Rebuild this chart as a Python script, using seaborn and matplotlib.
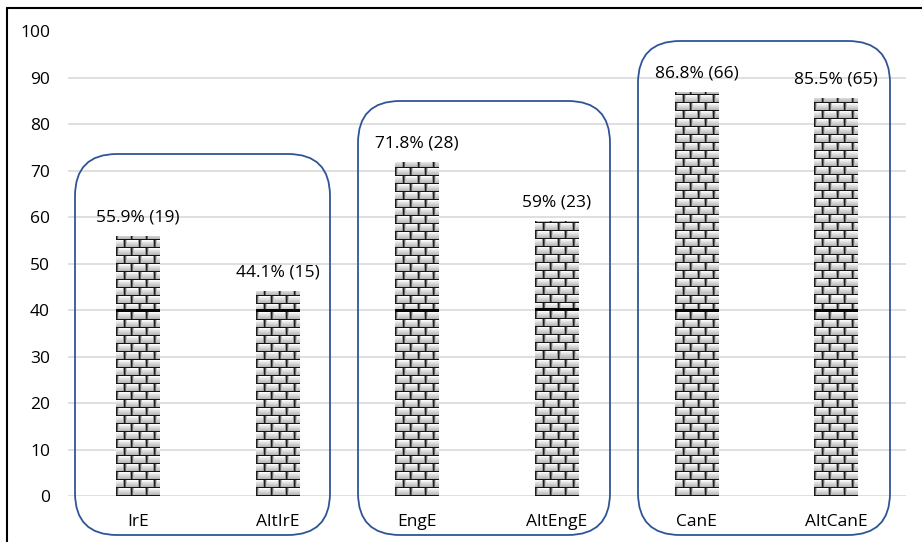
import numpy as np
import pandas as pd
import matplotlib
matplotlib.use("Agg")
import matplotlib.pyplot as plt
import seaborn as sns
from matplotlib.patches import FancyBboxPatch
from matplotlib.lines import Line2D

categories = ["IrE", "AltIrE", "EngE", "AltEngE", "CanE", "AltCanE"]
values = [55.9, 44.1, 71.8, 59.0, 86.8, 85.5]
counts = [19, 15, 28, 23, 66, 65]
bar_labels = ["55.9% (19)", "44.1% (15)", "71.8% (28)", "59% (23)", "86.8% (66)", "85.5% (65)"]
yticks = [0, 10, 20, 30, 40, 50, 60, 70, 80, 90, 100]

sns.set_theme(style="white")
plt.rcParams['font.family'] = ['Open Sans', 'DejaVu Sans']

W, H = 922, 542
fig = plt.figure(figsize=(W / 100, H / 100), dpi=100)
ax = fig.add_axes([68 / W, (H - 496) / H, (906 - 68) / W, (496 - 31.5) / H])

df = pd.DataFrame({"cat": categories, "val": values})
sns.barplot(data=df, x="cat", y="val", color="white", width=0.314, ax=ax,
            edgecolor="none", zorder=2)

ax.set_ylim(0, 100)
ax.set_xlim(-0.5, len(categories) - 0.5)
ax.set_yticks(yticks)
ax.set_yticklabels([str(t) for t in yticks])
ax.yaxis.grid(True, color="#d9d9d9", lw=1.2)
ax.set_axisbelow(True)
for s in ax.spines.values():
    s.set_visible(False)
ax.tick_params(axis="y", length=0, pad=13, labelsize=12.5, labelcolor="black")
ax.tick_params(axis="x", length=0, pad=13, labelsize=12.5, labelcolor="black")
ax.set_xlabel("")
ax.set_ylabel("")

# brick texture for each bar
fig.canvas.draw()
def brick_texture(hpx, wpx, y_unit_px):
    r = np.arange(hpx)[:, None]
    c = np.arange(wpx)[None, :]
    rowh, bw = 8, 15
    row = r // rowh
    rr = r % rowh
    cc = (c + (row % 2) * 7) % bw
    img = 0.72 + 0.26 * (rr - 1) / (rowh - 2)
    img = np.broadcast_to(img, (hpx, wpx)).astype(float).copy()
    img = np.where(cc == 0, 0.12, img)
    img = np.where(cc == 1, 0.40, img)
    img = np.where(cc == 2, 0.75, img)
    img = np.where(cc == bw - 1, 0.60, img)
    img = np.where(np.broadcast_to(rr == 0, img.shape), 0.08, img)
    seam = np.abs((r + 0.5) - 40 * y_unit_px) < 1.6
    img = np.where(np.broadcast_to(seam, img.shape), 0.02, img)
    return img

y_unit = ax.transData.transform((0, 1))[1] - ax.transData.transform((0, 0))[1]
for p in ax.patches:
    x0, w, h = p.get_x(), p.get_width(), p.get_height()
    (px0, py0) = ax.transData.transform((x0, 0))
    (px1, py1) = ax.transData.transform((x0 + w, h))
    wpx = max(1, int(round(px1 - px0)))
    hpx = max(1, int(round(py1 - py0)))
    tex = brick_texture(hpx, wpx, y_unit)
    ax.imshow(tex, cmap="gray", vmin=0, vmax=1, origin="lower",
              extent=(x0, x0 + w, 0, h), aspect="auto",
              interpolation="nearest", zorder=3)
ax.set_xlim(-0.5, len(categories) - 0.5)
ax.set_ylim(0, 100)

for i, p in enumerate(ax.patches):
    ax.annotate(bar_labels[i], (p.get_x() + p.get_width() / 2, p.get_height()),
                xytext=(0, 8), textcoords="offset points", ha="center",
                va="bottom", fontsize=12.5, color="black", zorder=4)

# rounded group frames (pixel coords)
def px_box(x0, x1, ytop, ybot):
    tr = fig.dpi_scale_trans
    b = FancyBboxPatch((x0 / 100, (H - ybot) / 100), (x1 - x0) / 100, (ybot - ytop) / 100,
                       boxstyle="round,pad=0,rounding_size=0.42",
                       transform=tr, fill=False, edgecolor="#2F5597", lw=1.3,
                       zorder=5, clip_on=False)
    fig.patches.append(b)

px_box(75, 330, 154, 535)
px_box(358, 610, 101, 535)
px_box(638, 890, 41, 535)

# outer chart border
fig.add_artist(Line2D([7 / W, 7 / W], [0, 1 - 8 / H], transform=fig.transFigure, color="black", lw=1.5))
fig.add_artist(Line2D([7 / W, 1], [1 - 8 / H, 1 - 8 / H], transform=fig.transFigure, color="black", lw=1.5))

fig.savefig("out.png", dpi=100, facecolor="white")
